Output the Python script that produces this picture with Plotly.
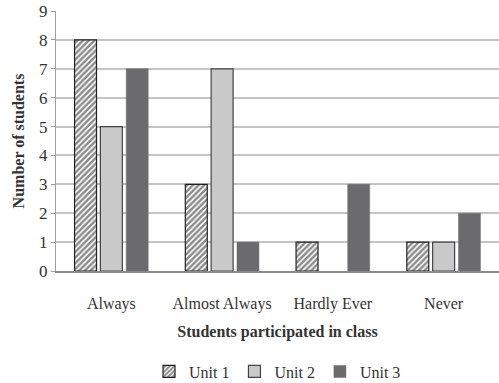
import plotly.graph_objects as go

categories = ["Always", "Almost Always", "Hardly Ever", "Never"]
unit1 = [8, 3, 1, 1]
unit2 = [5, 7, 0, 1]
unit3 = [7, 1, 3, 2]

SERIF = "Liberation Serif, DejaVu Serif, serif"

# hide the outline of zero-height bars
unit2_outline = [1.2 if v > 0 else 0 for v in unit2]

fig = go.Figure()
fig.add_trace(go.Bar(
    name="Unit 1", x=categories, y=unit1,
    marker=dict(color="white", line=dict(color="#222222", width=1.2),
                pattern=dict(shape="/", fgcolor="#111111", bgcolor="white",
                             size=4, solidity=0.6)),
))
fig.add_trace(go.Bar(
    name="Unit 2", x=categories, y=unit2,
    marker=dict(color="#c9c9c9", line=dict(color="#444444", width=unit2_outline)),
))
fig.add_trace(go.Bar(
    name="Unit 3", x=categories, y=unit3,
    marker=dict(color="#6b6b6d", line=dict(color="#6b6b6d", width=0.5)),
))

fig.update_layout(
    width=499, height=383,
    margin=dict(l=56, r=0, t=11, b=112, autoexpand=False),
    paper_bgcolor="white", plot_bgcolor="white",
    barmode="group", bargap=0.3, bargroupgap=0.15,
    font=dict(family=SERIF, size=16, color="#333333"),
    showlegend=True,
    legend=dict(orientation="h", x=0.5, xanchor="center",
                yref="container", y=0.03, yanchor="middle",
                font=dict(size=16), itemwidth=30, traceorder="normal"),
)
fig.update_xaxes(
    automargin=False,
    showline=True, linecolor="#8a8a8a", linewidth=1.5,
    ticks="", ticklabelstandoff=17,
    tickfont=dict(size=16),
    title=dict(text="<b>Students participated in class</b>",
               font=dict(size=16), standoff=14),
)
fig.update_yaxes(
    automargin=False,
    range=[0, 9], dtick=1,
    showgrid=True, gridcolor="#c4c4c4", gridwidth=1.5,
    showline=True, linecolor="#a0a0a0", linewidth=1.2,
    ticks="outside", ticklen=4, tickcolor="#a0a0a0",
    tickfont=dict(size=17),
    zeroline=False,
    title=dict(text="<b>Number of students</b>", font=dict(size=16),
               standoff=10),
)

fig.write_html("out.html")
